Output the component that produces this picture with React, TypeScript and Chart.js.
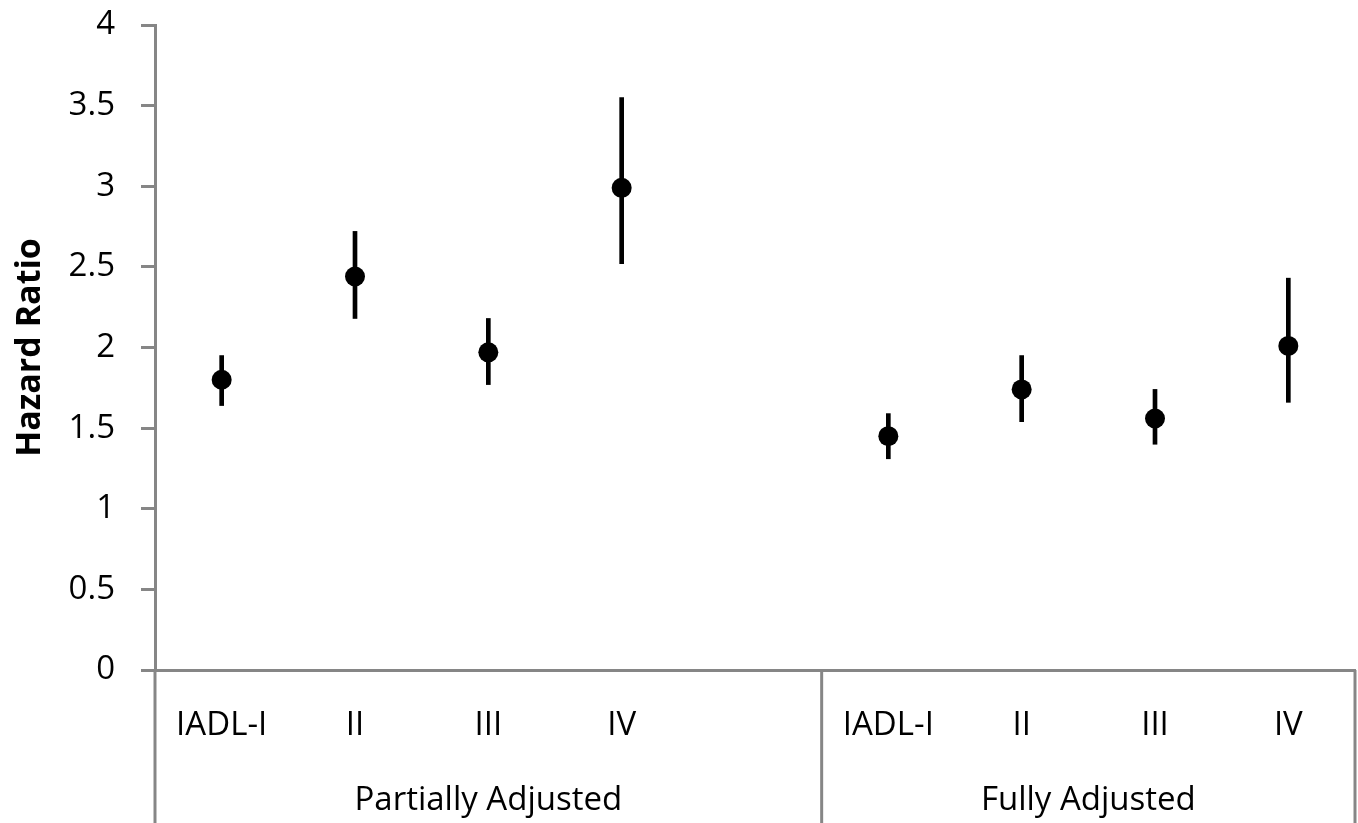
import React, { useEffect, useRef } from "react";
import { Chart, registerables } from "chart.js";

Chart.register(...registerables);

const categories = ["IADL-I", "II", "III", "IV", "", "IADL-I", "II", "III", "IV"];
const hazardRatio = [1.8, 2.44, 1.97, 2.99, null, 1.45, 1.74, 1.56, 2.01];
const lowerCI = [1.64, 2.18, 1.77, 2.52, null, 1.31, 1.54, 1.4, 1.66];
const upperCI = [1.95, 2.72, 2.18, 3.55, null, 1.59, 1.95, 1.74, 2.43];
const groups = [
  { label: "Partially Adjusted", from: 0, to: 4 },
  { label: "Fully Adjusted", from: 5, to: 8 },
];
const yTicks = { min: 0, max: 4, step: 0.5 };

const FONT = "'Open Sans', sans-serif";
const AXIS_GRAY = "#868686";

const groupPlugin = {
  id: "groupAxis",
  afterDraw(chart: any) {
    const { ctx, chartArea, scales } = chart;
    const x = scales.x;
    const bottom = chart.height;
    const half = (x.getPixelForValue(1) - x.getPixelForValue(0)) / 2;
    ctx.save();
    ctx.strokeStyle = AXIS_GRAY;
    ctx.lineWidth = 3;
    const seps: number[] = [chartArea.left];
    groups.forEach((g) => seps.push(x.getPixelForValue(g.to) + half));
    seps[seps.length - 1] = chartArea.right;
    seps.forEach((px) => {
      ctx.beginPath();
      ctx.moveTo(px, chartArea.bottom);
      ctx.lineTo(px, bottom);
      ctx.stroke();
    });
    ctx.fillStyle = "#000";
    ctx.font = `33px ${FONT}`;
    ctx.textAlign = "center";
    ctx.textBaseline = "middle";
    groups.forEach((g) => {
      const left = x.getPixelForValue(g.from) - half;
      const right = x.getPixelForValue(g.to) + half;
      ctx.fillText(g.label, (left + right) / 2, chartArea.bottom + 131);
    });
    ctx.restore();
  },
};

export default function App() {
  const ref = useRef<HTMLCanvasElement>(null);
  useEffect(() => {
    if (!ref.current) return;
    const errorBars = lowerCI.map((lo, i) =>
      lo === null || upperCI[i] === null ? null : [lo, upperCI[i]]
    );
    const chart = new Chart(ref.current, {
      type: "bar",
      data: {
        labels: categories,
        datasets: [
          {
            type: "line",
            label: "Hazard Ratio",
            data: hazardRatio as any,
            showLine: false,
            pointRadius: 10,
            pointHoverRadius: 10,
            pointBackgroundColor: "#000",
            pointBorderColor: "#000",
            pointBorderWidth: 0,
            order: 0,
          } as any,
          {
            type: "bar",
            label: "95% CI",
            data: errorBars as any,
            backgroundColor: "#000",
            barThickness: 4,
            order: 1,
          },
        ],
      },
      options: {
        animation: false,
        responsive: true,
        maintainAspectRatio: false,
        layout: { autoPadding: false, padding: { top: 25, right: 3, left: 0, bottom: 0 } },
        plugins: {
          legend: { display: false },
          tooltip: { enabled: false },
        },
        scales: {
          x: {
            offset: true,
            grid: { display: false, drawTicks: false },
            border: { display: true, color: AXIS_GRAY, width: 3 },
            ticks: {
              color: "#000",
              font: { family: FONT, size: 33 },
              padding: 36,
              maxRotation: 0,
              autoSkip: false,
            },
            afterFit(scale: any) {
              scale.height = 153;
              scale.paddingLeft = 0;
              scale.paddingRight = 0;
            },
          },
          y: {
            min: yTicks.min,
            max: yTicks.max,
            ticks: {
              stepSize: yTicks.step,
              color: "#000",
              font: { family: FONT, size: 33 },
              padding: 26,
              callback: (v: any) => String(Number(v)),
            },
            grid: {
              display: true,
              drawOnChartArea: false,
              drawTicks: true,
              tickLength: 14,
              color: AXIS_GRAY,
              lineWidth: 3,
            },
            border: { display: true, color: AXIS_GRAY, width: 3 },
            title: {
              display: true,
              text: "Hazard Ratio",
              color: "#000",
              font: { family: FONT, size: 34, weight: "bold" },
              padding: { top: 10, bottom: 0 },
            },
            afterFit(scale: any) {
              scale.width = 155;
              scale.paddingTop = 0;
              scale.paddingBottom = 0;
            },
          },
        },
      },
      plugins: [groupPlugin],
    });
    return () => chart.destroy();
  }, []);
  return (
    <div style={{ position: "fixed", left: 0, top: 0, width: 1358, height: 823, background: "#fff" }}>
      <canvas ref={ref} />
    </div>
  );
}
